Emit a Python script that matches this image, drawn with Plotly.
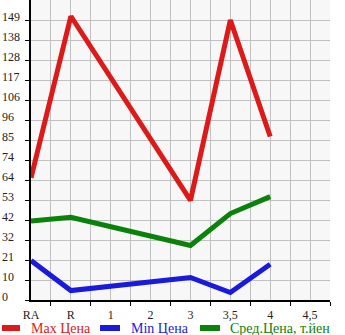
import plotly.graph_objects as go

categories = ["RA", "R", "1", "2", "3", "3,5", "4", "4,5"]
max_price = [65, 151, None, None, 53, 149, 87, None]
min_price = [21, 5, None, None, 12, 4, 19, None]
avg_price = [42, 44, None, None, 29, 46, 55, None]
y_tick_labels = ["0", "10", "21", "32", "42", "53", "64", "74", "85", "96",
                 "106", "117", "128", "138", "149"]

step = 149 / 14
y_tick_vals = [i * step for i in range(len(y_tick_labels))]
x_idx = list(range(len(categories)))

series = [
    ("Max Цена", max_price, "#dc1a1a"),
    ("Min Цена", min_price, "#1a1adc"),
    ("Сред.Цена, т.йен", avg_price, "#0a820a"),
]

W, H = 345, 335
ML, MR, MT, MB = 31, 15, 0, 35
PW, PH = W - ML - MR, H - MT - MB

def px_x(p):
    return (p - ML) / PW

def px_y(p):
    return (H - MB - p) / PH

fig = go.Figure()
for name, vals, col in series:
    fig.add_trace(go.Scatter(
        x=x_idx, y=vals, mode="lines", connectgaps=True,
        line=dict(color=col, width=5),
        name=name, showlegend=False,
    ))

font_family = "Liberation Serif"
annotations = []
for v, t in zip(y_tick_vals, y_tick_labels):
    annotations.append(dict(
        xref="paper", x=0, xanchor="left", xshift=-ML,
        yref="y", y=v, yanchor="middle", yshift=3,
        text=t, showarrow=False,
        font=dict(family=font_family, size=12, color="#222"),
    ))

# manual legend (swatch start px, swatch end px, text start px)
legend_pos = [(2, 20, 29), (100, 120, 129), (200, 220, 228)]
shapes = []
leg_y = 328
for (name, vals, col), (s0, s1, tx) in zip(series, legend_pos):
    shapes.append(dict(
        type="line", xref="paper", yref="paper",
        x0=px_x(s0), x1=px_x(s1), y0=px_y(leg_y), y1=px_y(leg_y),
        line=dict(color=col, width=6),
    ))
    annotations.append(dict(
        xref="paper", yref="paper", x=px_x(tx), y=px_y(leg_y),
        xanchor="left", yanchor="middle", text=name, showarrow=False,
        font=dict(family=font_family, size=14, color=col),
    ))

fig.update_layout(
    width=W, height=H,
    margin=dict(l=ML, r=MR, t=MT, b=MB),
    paper_bgcolor="white",
    plot_bgcolor="#f7f7f7",
    showlegend=False,
    annotations=annotations,
    shapes=shapes,
    xaxis=dict(
        range=[0, 7.5], tickvals=x_idx, ticktext=categories,
        showgrid=True, gridcolor="#c0c0c0", gridwidth=1,
        ticks="", showline=True, linecolor="black", linewidth=2,
        ticklabelstandoff=3,
        tickfont=dict(family=font_family, size=12, color="#222"),
        minor=dict(tickvals=[i + 0.5 for i in x_idx], ticks="outside",
                   ticklen=4, tickcolor="black", showgrid=True,
                   gridcolor="#c0c0c0", gridwidth=1),
        zeroline=False, fixedrange=True,
    ),
    yaxis=dict(
        range=[0, 15 * step], tickvals=y_tick_vals, ticktext=[""] * len(y_tick_vals),
        showgrid=True, gridcolor="#c0c0c0", gridwidth=1,
        ticks="outside", ticklen=4, tickcolor="black",
        showline=True, linecolor="black", linewidth=2,
        zeroline=False, fixedrange=True,
    ),
)

fig.write_html("out.html")
